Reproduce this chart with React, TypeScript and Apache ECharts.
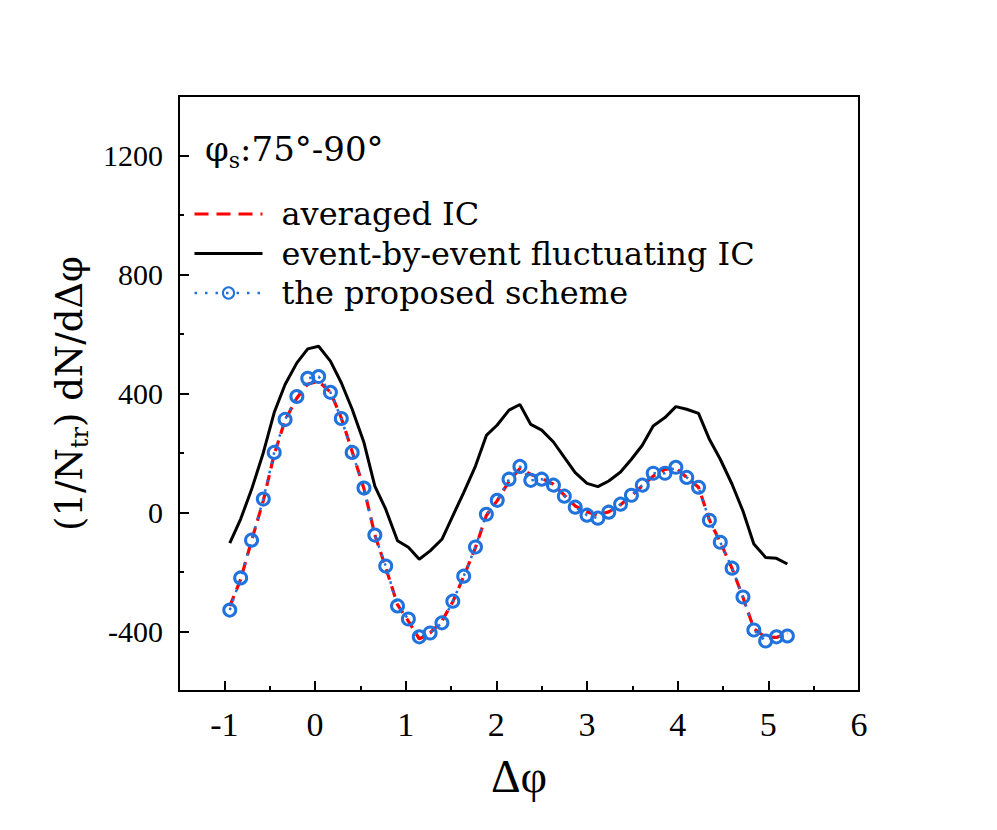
import React, { useEffect, useRef } from "react";
import * as echarts from "echarts";

const dphi = [-0.94, -0.82, -0.70, -0.57, -0.45, -0.33, -0.20, -0.08, 0.04, 0.17, 0.29, 0.41, 0.54, 0.66, 0.78, 0.91, 1.03, 1.15, 1.27, 1.40, 1.52, 1.64, 1.77, 1.89, 2.01, 2.14, 2.26, 2.38, 2.50, 2.63, 2.75, 2.87, 3.00, 3.12, 3.24, 3.37, 3.49, 3.61, 3.73, 3.86, 3.98, 4.10, 4.23, 4.35, 4.47, 4.60, 4.72, 4.84, 4.97, 5.09, 5.21];

const averagedIC = [-315, -225, -95, 40, 195, 310, 385, 432, 440, 405, 318, 205, 80, -75, -185, -310, -365, -425, -405, -365, -300, -215, -118, -10, 40, 105, 148, 128, 115, 95, 58, 22, 2, -8, 2, 26, 56, 90, 122, 145, 150, 118, 85, -25, -100, -188, -285, -390, -420, -420, -405];

const ebeIC = [-103, -22, 77, 201, 336, 430, 503, 550, 559, 509, 436, 347, 235, 89, 11, -95, -117, -157, -129, -90, -11, 67, 156, 259, 294, 344, 363, 296, 277, 237, 185, 134, 98, 87, 106, 136, 179, 226, 291, 319, 356, 347, 333, 246, 179, 95, 5, -106, -151, -154, -173];

const proposed = [-328, -220, -93, 45, 202, 313, 390, 451, 457, 404, 316, 202, 82, -76, -180, -314, -358, -418, -405, -371, -298, -214, -116, -6, 41, 112, 155, 108, 112, 92, 55, 18, -9, -19, 1, 28, 58, 92, 132, 132, 152, 118, 85, -26, -100, -187, -284, -395, -432, -418, -415];

const xMajorTicks = [-1, 0, 1, 2, 3, 4, 5, 6];
const xMinorTicks = [-0.5, 0.5, 1.5, 2.5, 3.5, 4.5, 5.5];
const yMajorTicks = [-400, 0, 400, 800, 1200];
const yMinorTicks = [-200, 200, 600, 1000];

const seriesNames = ["averaged IC", "event-by-event fluctuating IC", "the proposed scheme"];

const BLUE = "#2072dc";
const SERIF = "'Liberation Serif', 'Times New Roman', serif";
const DSERIF = "'DejaVu Serif', serif";

export default function App() {
  const ref = useRef<HTMLDivElement>(null);
  useEffect(() => {
    if (!ref.current) return;
    const chart = echarts.init(ref.current, null, { renderer: "svg" });
    const pts = (ys: number[]) => dphi.map((x, i) => [x, ys[i]]);
    const plain = (v: number) => String(v);
    const option: any = {
      animation: false,
      backgroundColor: "#fff",
      title: {
        text: "{a|φ}{s|s}{a|:75°-90°}",
        left: 200,
        top: 122,
        textStyle: {
          fontWeight: "normal",
          rich: {
            a: { fontFamily: DSERIF, fontSize: 34, fontWeight: "normal", color: "#000", lineHeight: 44 },
            s: { fontFamily: DSERIF, fontSize: 22, fontWeight: "normal", color: "#000", verticalAlign: "bottom", lineHeight: 30 },
          },
        },
      },
      legend: {
        orient: "vertical",
        left: 193,
        top: 198,
        padding: 0,
        itemWidth: 68,
        itemHeight: 14,
        itemGap: 7.5,
        data: [
          { name: seriesNames[0], itemStyle: { opacity: 0 }, lineStyle: { width: 3, type: [14, 8] } },
          { name: seriesNames[1], itemStyle: { opacity: 0 }, lineStyle: { width: 3 } },
          { name: seriesNames[2], lineStyle: { width: 2.5, type: [2.5, 8] } },
        ],
        textStyle: { fontFamily: DSERIF, fontSize: 32, color: "#000", padding: [0, 0, 0, 14] },
      },
      grid: {
        left: 179,
        top: 96,
        width: 680,
        height: 595,
        show: true,
        borderColor: "#000",
        borderWidth: 2,
        backgroundColor: "transparent",
      },
      xAxis: [
        {
          type: "value",
          min: -1.5,
          max: 6,
          interval: 0.5,
          position: "bottom",
          name: "Δφ",
          nameLocation: "middle",
          nameGap: 62,
          nameTextStyle: { fontFamily: SERIF, fontSize: 46, color: "#000" },
          axisLine: { show: true, onZero: false, lineStyle: { color: "#000", width: 2 } },
          axisTick: { show: true, inside: true, length: 10, customValues: xMajorTicks, lineStyle: { color: "#000", width: 2 } },
          axisLabel: { customValues: xMajorTicks, formatter: plain, margin: 16, fontFamily: SERIF, fontSize: 34, color: "#000" },
          splitLine: { show: false },
        },
        {
          type: "value",
          min: -1.5,
          max: 6,
          interval: 0.5,
          position: "bottom",
          axisLine: { show: false, onZero: false },
          axisTick: { show: true, inside: true, length: 5, customValues: xMinorTicks, lineStyle: { color: "#000", width: 2 } },
          axisLabel: { show: false },
          splitLine: { show: false },
        },
      ],
      yAxis: [
        {
          type: "value",
          min: -600,
          max: 1400,
          interval: 200,
          position: "left",
          name: "{a|(1/N}{s|tr}{a|) dN/dΔφ}",
          nameLocation: "middle",
          nameRotate: 90,
          nameGap: 84,
          nameTextStyle: {
            rich: {
              a: { fontFamily: DSERIF, fontSize: 37, color: "#000", lineHeight: 46 },
              s: { fontFamily: DSERIF, fontSize: 24, color: "#000", verticalAlign: "bottom", lineHeight: 30 },
            },
          },
          axisLine: { show: true, onZero: false, lineStyle: { color: "#000", width: 2 } },
          axisTick: { show: true, inside: true, length: 10, customValues: yMajorTicks, lineStyle: { color: "#000", width: 2 } },
          axisLabel: { customValues: yMajorTicks, formatter: plain, margin: 16, fontFamily: SERIF, fontSize: 30, color: "#000" },
          splitLine: { show: false },
        },
        {
          type: "value",
          min: -600,
          max: 1400,
          interval: 200,
          position: "left",
          axisLine: { show: false, onZero: false },
          axisTick: { show: true, inside: true, length: 5, customValues: yMinorTicks, lineStyle: { color: "#000", width: 2 } },
          axisLabel: { show: false },
          splitLine: { show: false },
        },
      ],
      series: [
        {
          name: seriesNames[0],
          type: "line",
          data: pts(averagedIC),
          symbol: "none",
          z: 3,
          lineStyle: { color: "#ff0000", width: 3.2, type: [11, 7] },
          itemStyle: { color: "#ff0000" },
        },
        {
          name: seriesNames[1],
          type: "line",
          data: pts(ebeIC),
          symbol: "none",
          z: 2,
          lineStyle: { color: "#000", width: 3, type: "solid" },
          itemStyle: { color: "#000" },
        },
        {
          name: seriesNames[2],
          type: "line",
          data: pts(proposed),
          symbol: "circle",
          symbolSize: 12,
          z: 4,
          lineStyle: { color: BLUE, width: 2.5, type: [2.5, 7] },
          itemStyle: { color: "rgba(255,255,255,0)", borderColor: BLUE, borderWidth: 3 },
        },
      ],
    };
    chart.setOption(option);
    return () => chart.dispose();
  }, []);
  return (
    <div
      ref={ref}
      style={{ position: "absolute", left: 0, top: 0, width: 997, height: 830, background: "#fff" }}
    />
  );
}
